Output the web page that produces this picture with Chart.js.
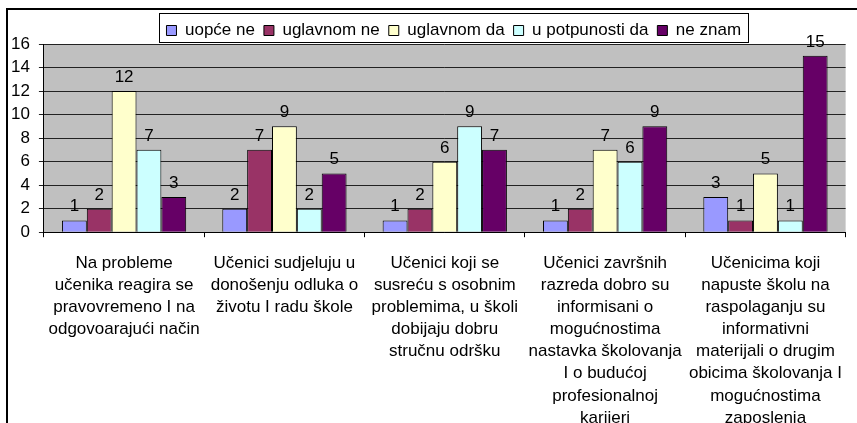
<!DOCTYPE html>
<html>
<head>
<meta charset="utf-8">
<script src="https://cdn.jsdelivr.net/npm/chart.js@4.4.1/dist/chart.umd.min.js"></script>
<style>
    html, body { margin: 0; padding: 0; background: #fff; }
    #wrap { width: 857px; height: 423px; }
</style>
</head>
<body>
<div id="wrap"><canvas id="myChart"></canvas></div>
<script>
// kategorije (po redovima teksta)
const categories = [
    ["Na probleme", "učenika reagira se", "pravovremeno I na", "odgovoarajući način"],
    ["Učenici sudjeluju u", "donošenju odluka o", "životu I radu škole"],
    ["Učenici koji se", "susreću s osobnim", "problemima, u školi", "dobijaju dobru", "stručnu odršku"],
    ["Učenici završnih", "razreda dobro su", "informisani o", "mogućnostima", "nastavka školovanja", "I o budućoj", "profesionalnoj", "karijeri"],
    ["Učenicima koji", "napuste školu na", "raspolaganju su", "informativni", "materijali o drugim", "obicima školovanja I", "mogućnostima", "zaposlenja"]
];

const seriesNames = ["uopće ne", "uglavnom ne", "uglavnom da", "u potpunosti da", "ne znam"];

const uopceNe = [1, 2, 1, 1, 3];
const uglavnomNe = [2, 7, 2, 2, 1];
const uglavnomDa = [12, 9, 6, 7, 5];
const uPotpunostiDa = [7, 2, 9, 6, 1];
const neZnam = [3, 5, 7, 9, 15];

const yMin = 0;
const yMax = 16;
const yStep = 2;

const colors = ["#9999FF", "#993366", "#FFFFCC", "#CCFFFF", "#660066"];
const FONT = "'Liberation Sans', Arial, sans-serif";

const ctx = document.getElementById("myChart");

// pozadina, okvir i sivo polje grafikona
const backgroundPlugin = {
    id: "background",
    beforeDraw(chart) {
        const c = chart.ctx;
        const a = chart.chartArea;
        c.save();
        c.fillStyle = "#ffffff";
        c.fillRect(0, 0, chart.width, chart.height);
        c.fillStyle = "#000000";
        c.fillRect(7, 8, chart.width - 7, 2);
        c.fillRect(6, 8, 2, chart.height - 8);
        c.fillStyle = "#C0C0C0";
        c.fillRect(a.left, a.top, a.right - a.left, a.bottom - a.top);
        c.restore();
    }
};

// legenda centrirana iznad polja grafikona, s okvirom
const legendBoxPlugin = {
    id: "legendBox",
    afterInit(chart) {
        const lg = chart.legend;
        const origFit = lg.fit;
        lg.fit = function () {
            origFit.call(this);
            this.height = 31; // niža legenda, kao u izvorniku
        };
    },
    afterLayout(chart) {
        const lg = chart.legend;
        lg.left = chart.chartArea.left + 18;
        lg.right = chart.chartArea.right;
        if (lg.adjustHitBoxes) lg.adjustHitBoxes();
    },
    afterDraw(chart) {
        const lg = chart.legend;
        const boxes = lg.legendHitBoxes;
        if (!boxes || !boxes.length) return;
        let l = Infinity, r = -Infinity;
        boxes.forEach((h) => {
            l = Math.min(l, h.left);
            r = Math.max(r, h.left + h.width);
        });
        const cy = lg.top + 14.5;
        const c = chart.ctx;
        c.save();
        c.strokeStyle = "#000";
        c.lineWidth = 1;
        c.strokeRect(Math.round(l - 7) + 0.5, Math.round(cy - 14.5) + 0.5, Math.round(r - l + 14), 29);
        c.restore();
    }
};

// vrijednosti iznad stupaca
const valueLabelsPlugin = {
    id: "valueLabels",
    afterDatasetsDraw(chart) {
        const c = chart.ctx;
        c.save();
        c.fillStyle = "#000";
        c.font = "17px " + FONT;
        c.textAlign = "center";
        c.textBaseline = "alphabetic";
        chart.data.datasets.forEach((ds, i) => {
            const meta = chart.getDatasetMeta(i);
            meta.data.forEach((el, j) => {
                c.fillText(String(ds.data[j]), el.x, el.y - 9);
            });
        });
        c.restore();
    }
};

const seriesData = [uopceNe, uglavnomNe, uglavnomDa, uPotpunostiDa, neZnam];

new Chart(ctx, {
    type: "bar",
    data: {
        labels: categories,
        datasets: seriesNames.map((name, i) => ({
            label: name,
            data: seriesData[i],
            backgroundColor: colors[i],
            borderColor: "#000",
            borderWidth: 1,
            categoryPercentage: 0.775,
            barPercentage: 1.0,
        })),
    },
    options: {
        responsive: true,
        maintainAspectRatio: false,
        animation: false,
        layout: {
            padding: { left: 2, top: 13, right: 0, bottom: -21 },
        },
        plugins: {
            tooltip: { enabled: false },
            legend: {
                position: "top",
                labels: {
                    color: "#000",
                    font: { family: FONT, size: 17 },
                    boxWidth: 10,
                    boxHeight: 10,
                    padding: 9,
                },
            },
        },
        scales: {
            x: {
                grid: {
                    offset: true,
                    drawOnChartArea: false,
                    tickLength: 5,
                    color: "#000",
                },
                border: { color: "#000" },
                ticks: {
                    color: "#000",
                    font: { family: FONT, size: 17, lineHeight: 1.3 },
                    maxRotation: 0,
                    minRotation: 0,
                    autoSkip: false,
                    padding: 15,
                },
            },
            y: {
                min: yMin,
                max: yMax,
                grid: {
                    color: "#222",
                    tickLength: 5,
                },
                border: { color: "#000" },
                ticks: {
                    stepSize: yStep,
                    autoSkip: false,
                    color: "#000",
                    font: { family: FONT, size: 17 },
                    padding: 9,
                },
            },
        },
    },
    plugins: [backgroundPlugin, legendBoxPlugin, valueLabelsPlugin],
});
</script>
</body>
</html>
